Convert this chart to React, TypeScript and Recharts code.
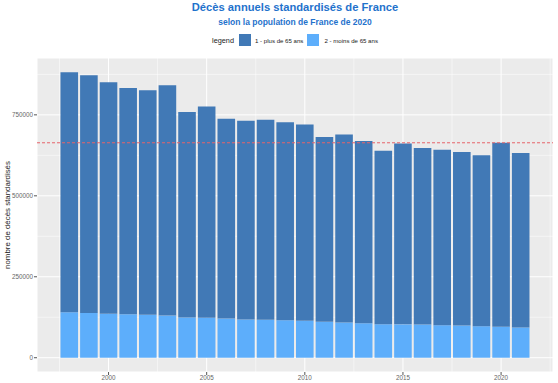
import React from "react";
import { BarChart, Bar, XAxis, YAxis, CartesianGrid, ReferenceLine } from "recharts";

// years and standardised deaths
const years = [1998, 1999, 2000, 2001, 2002, 2003, 2004, 2005, 2006, 2007, 2008, 2009, 2010, 2011, 2012, 2013, 2014, 2015, 2016, 2017, 2018, 2019, 2020, 2021];
const plus65 = [741100, 733700, 715200, 698900, 693600, 711200, 635100, 652800, 616700, 613600, 617600, 611700, 606500, 570500, 581000, 562500, 535800, 558900, 545000, 541800, 535700, 527700, 568400, 538800];
const moins65 = [140400, 138500, 135500, 134200, 132400, 130200, 124100, 123100, 121000, 117900, 117000, 115800, 113900, 110800, 108700, 106500, 103400, 103000, 102500, 100400, 99400, 97300, 95400, 93300];

const yTicks = [0, 250000, 500000, 750000];
const yMinor = [125000, 375000, 625000, 875000];
const xTicks = [2000, 2005, 2010, 2015, 2020];
const xMinor = [1997.5, 2002.5, 2007.5, 2012.5, 2017.5, 2022.5];
const refYear = 2020;

const DARK = "#4179b6";
const LIGHT = "#5daefb";
const TITLE = "#1f72cc";
const FONT = "'Liberation Sans', Arial, sans-serif";

const data = years.map((year, i) => ({ year, plus: plus65[i], moins: moins65[i] }));
const refIdx = years.indexOf(refYear);
const refTotal = plus65[refIdx] + moins65[refIdx];
const maxTotal = Math.max(...data.map((d) => d.plus + d.moins));
// ggplot style 5% expansion
const yDomain = [-maxTotal * 0.05, maxTotal * 1.05];
const xDomain = [1997.55 - 1.195, 2021.45 + 1.195];

const tickStyle = { fontSize: 6.3, fill: "#666", fontFamily: FONT };

// minor grid lines: use the axis scale when it is handed over, else the plot box
const scaleOf = (axis: any) => {
  const s = axis && axis.scale;
  if (typeof s === "function") return s;
  if (s && typeof s.map === "function") return (v: number) => s.map(v);
  return null;
};
const minorY = ({ yAxis, offset }: any) => {
  const s = scaleOf(yAxis);
  if (s) return yMinor.map((v) => s(v));
  return yMinor.map((v) => offset.top + ((yDomain[1] - v) / (yDomain[1] - yDomain[0])) * offset.height);
};
const minorX = ({ xAxis, offset }: any) => {
  const s = scaleOf(xAxis);
  if (s) return xMinor.map((v) => s(v));
  return xMinor.map((v) => offset.left + ((v - xDomain[0]) / (xDomain[1] - xDomain[0])) * offset.width);
};

export default function App() {
  return (
    <div style={{ position: "absolute", left: 0, top: 0, width: 558, height: 383, background: "#fff", fontFamily: FONT }}>
      <div style={{ position: "absolute", left: 37, width: 516, top: 1, height: 13, lineHeight: "13px", textAlign: "center", fontSize: 11.2, fontWeight: "bold", color: TITLE }}>
        Décès annuels standardisés de France
      </div>
      <div style={{ position: "absolute", left: 37, width: 516, top: 17, height: 10, lineHeight: "10px", textAlign: "center", fontSize: 8.5, fontWeight: "bold", color: TITLE }}>
        selon la population de France de 2020
      </div>
      <div style={{ position: "absolute", left: 37, width: 516, top: 34, height: 12, display: "flex", justifyContent: "center", alignItems: "center", color: "#222" }}>
        <span style={{ fontSize: 7.3, marginRight: 5 }}>legend</span>
        <span style={{ width: 12, height: 12, background: DARK, marginRight: 4 }} />
        <span style={{ fontSize: 6.1, marginRight: 4 }}>1 - plus de 65 ans</span>
        <span style={{ width: 12, height: 12, background: LIGHT, marginRight: 5 }} />
        <span style={{ fontSize: 6.1 }}>2 - moins de 65 ans</span>
      </div>
      <BarChart width={558} height={383} data={data} margin={{ top: 58, right: 5, left: 0, bottom: 0 }} style={{ position: "absolute", left: 0, top: 0 }}>
        <CartesianGrid fill="#ebebeb" fillOpacity={1} stroke="#ffffff" strokeWidth={1} />
        <CartesianGrid
          stroke="#ffffff"
          strokeWidth={0.5}
          horizontalCoordinatesGenerator={minorY}
          verticalCoordinatesGenerator={minorX}
        />
        <XAxis
          type="number"
          dataKey="year"
          domain={xDomain}
          ticks={xTicks}
          allowDataOverflow
          height={11}
          tickSize={3}
          tickMargin={1}
          axisLine={false}
          tickLine={{ stroke: "#555" }}
          tick={tickStyle}
        />
        <YAxis
          type="number"
          domain={yDomain}
          ticks={yTicks}
          allowDataOverflow
          width={37}
          tickSize={3}
          tickMargin={1}
          axisLine={false}
          tickLine={{ stroke: "#555" }}
          tick={tickStyle}
          label={{ value: "nombre de décès standardisés", angle: -90, position: "center", dx: -11, style: { fontSize: 7.9, fill: "#222", fontFamily: FONT } }}
        />
        <Bar dataKey="moins" name="2 - moins de 65 ans" stackId="a" fill={LIGHT} barSize={17.6} isAnimationActive={false} />
        <Bar dataKey="plus" name="1 - plus de 65 ans" stackId="a" fill={DARK} barSize={17.6} isAnimationActive={false} />
        <ReferenceLine y={refTotal} stroke="#e5646a" strokeWidth={1} strokeDasharray="3 2" />
      </BarChart>
    </div>
  );
}
